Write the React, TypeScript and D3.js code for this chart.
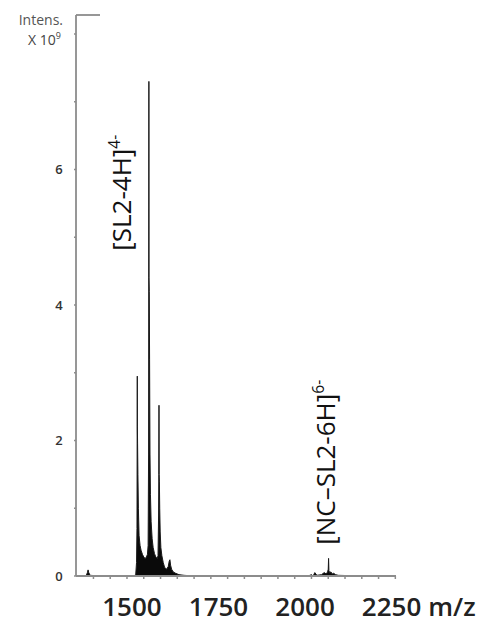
import React from "react";
import * as d3 from "d3";

// ---- data ----
const spectrumMz: number[] = [
  1348, 1378, 1382, 1384, 1386, 1390, 1420, 1480, 1520, 1526,
  1528.5, 1529.8, 1530.4, 1530.7, 1531.0, 1531.6, 1532.6, 1534, 1536, 1539,
  1542, 1546, 1550, 1554, 1558, 1561, 1563, 1564.4, 1564.9, 1565.3,
  1565.7, 1566.4, 1567.4, 1568.6, 1570, 1572, 1575, 1578, 1582, 1586,
  1590, 1592.5, 1594.2, 1594.9, 1595.4, 1595.9, 1596.6, 1597.6, 1599, 1601,
  1604, 1608, 1612, 1618, 1623, 1626, 1628, 1630, 1633, 1638,
  1645, 1655, 1670, 1700, 1800, 1900, 2000, 2040, 2050, 2055,
  2060, 2066, 2080, 2088, 2094, 2098, 2100, 2101, 2102, 2104,
  2108, 2112, 2116, 2122, 2130, 2200, 2302,
];
const spectrumIntensity: number[] = [
  0, 0, 0.05, 0.09, 0.05, 0.01, 0, 0, 0, 0.02,
  0.2, 0.7, 2.2, 2.95, 2.2, 1.95, 1.5, 1.0, 0.6, 0.45,
  0.38, 0.32, 0.28, 0.26, 0.28, 0.32, 0.45, 1.8, 4.4, 7.3,
  4.4, 4.2, 3.2, 1.8, 1.2, 0.8, 0.55, 0.42, 0.33, 0.28,
  0.26, 0.3, 0.9, 1.5, 2.52, 1.5, 1.4, 1.0, 0.65, 0.42,
  0.3, 0.2, 0.13, 0.1, 0.14, 0.22, 0.24, 0.16, 0.1, 0.06,
  0.04, 0.02, 0.01, 0, 0, 0, 0, 0, 0.02, 0.0,
  0.05, 0.01, 0.02, 0.05, 0.03, 0.06, 0.1, 0.26, 0.08, 0.05,
  0.06, 0.03, 0.04, 0.02, 0.01, 0, 0,
];
const xTickValues: number[] = [1400, 1450, 1500, 1550, 1600, 1650, 1700, 1750, 1800, 1850, 1900, 1950, 2000, 2050, 2100, 2150, 2200, 2250, 2300];
const xLabelValues: number[] = [1500, 1750, 2000, 2250];
const yTickValues: number[] = [0, 1, 2, 3, 4, 5, 6, 7, 8];
const yLabelValues: number[] = [0, 2, 4, 6];
const annotations = [
  { mz: 1530, main: "[SL2-4H]", sup: "4-", base: 4.8, dx: -6, size: 26 },
  { mz: 2101, main: "[NC\u2013SL2-6H]", sup: "6-", base: 0.46, dx: 6, size: 26 },
];

const W = 491;
const H = 625;

export default function App() {
  const x = d3.scaleLinear().domain([1348, 2302]).range([76, 396]);
  const y = d3.scaleLinear().domain([0, 8.28]).range([576, 15]);
  const labelX = d3
    .scaleLinear()
    .domain([1500, 2250])
    .range([x(1500) + 5, x(2250) + 13]);

  const pts: [number, number][] = spectrumMz.map((m, i) => [m, spectrumIntensity[i]]);
  const area = d3
    .area<[number, number]>()
    .x((d) => x(d[0]))
    .y0(y(0))
    .y1((d) => y(d[1]));
  const line = d3
    .line<[number, number]>()
    .x((d) => x(d[0]))
    .y((d) => y(d[1]));

  const axisColor = "#8c8c8c";
  const font = "'Open Sans', 'Liberation Sans', sans-serif";

  return (
    <div style={{ position: "absolute", left: 0, top: 0, width: W, height: H, background: "#fff" }}>
      <svg width={W} height={H} style={{ display: "block" }}>
        <rect width={W} height={H} fill="#fff" />
        {/* spectrum */}
        <path d={area(pts) || ""} fill="#0a0a0a" />
        <path d={line(pts) || ""} fill="none" stroke="#1a1a1a" strokeWidth={1} />

        {/* y axis */}
        <line x1={x(1348)} x2={x(1348)} y1={y(8.28)} y2={y(0)} stroke={axisColor} strokeWidth={1.8} />
        <line x1={x(1348)} x2={x(1348) + 24} y1={y(8.28)} y2={y(8.28)} stroke={axisColor} strokeWidth={1.8} />
        {yTickValues.map((v) => (
          <line key={"yt" + v} x1={x(1348) - 2} x2={x(1348)} y1={y(v)} y2={y(v)} stroke={axisColor} strokeWidth={1.5} />
        ))}
        {yLabelValues.map((v) => (
          <text
            key={"yl" + v}
            x={x(1348) - 17}
            y={y(v)}
            dy="0.36em"
            textAnchor="middle"
            fontFamily={font}
            fontWeight={600}
            fontSize={13}
            fill="#333"
          >
            {v}
          </text>
        ))}
        <text x={63} y={25} textAnchor="end" fontFamily={font} fontSize={14} fill="#555">
          Intens.
        </text>
        <text x={61} y={45} textAnchor="end" fontFamily={font} fontSize={14} fill="#444">
          X 10
          <tspan fontSize={9} dy={-6}>
            9
          </tspan>
        </text>

        {/* x axis */}
        <line x1={x(1348)} x2={x(2302)} y1={y(0)} y2={y(0)} stroke={axisColor} strokeWidth={1.8} />
        {xTickValues.map((v) => (
          <line key={"xt" + v} x1={x(v)} x2={x(v)} y1={y(0)} y2={y(0) + 3} stroke={axisColor} strokeWidth={1.5} />
        ))}
        {xLabelValues.map((v) => (
          <text
            key={"xl" + v}
            x={labelX(v)}
            y={616}
            textAnchor="middle"
            fontFamily={font}
            fontWeight={600}
            fontSize={26}
            fill="#222"
          >
            {v}
          </text>
        ))}
        <text x={452} y={616} textAnchor="middle" fontFamily={font} fontWeight={600} fontSize={26} fill="#222">
          m/z
        </text>

        {/* annotations */}
        {annotations.map((a) => {
          const ax = x(a.mz) + a.dx;
          const ay = y(a.base);
          return (
            <text
              key={a.main}
              transform={`translate(${ax},${ay}) rotate(-90)`}
              fontFamily={font}
              fontSize={a.size}
              fill="#111"
            >
              {a.main}
              <tspan fontSize={a.size * 0.6} dy={-a.size * 0.42}>
                {a.sup}
              </tspan>
            </text>
          );
        })}
      </svg>
    </div>
  );
}
